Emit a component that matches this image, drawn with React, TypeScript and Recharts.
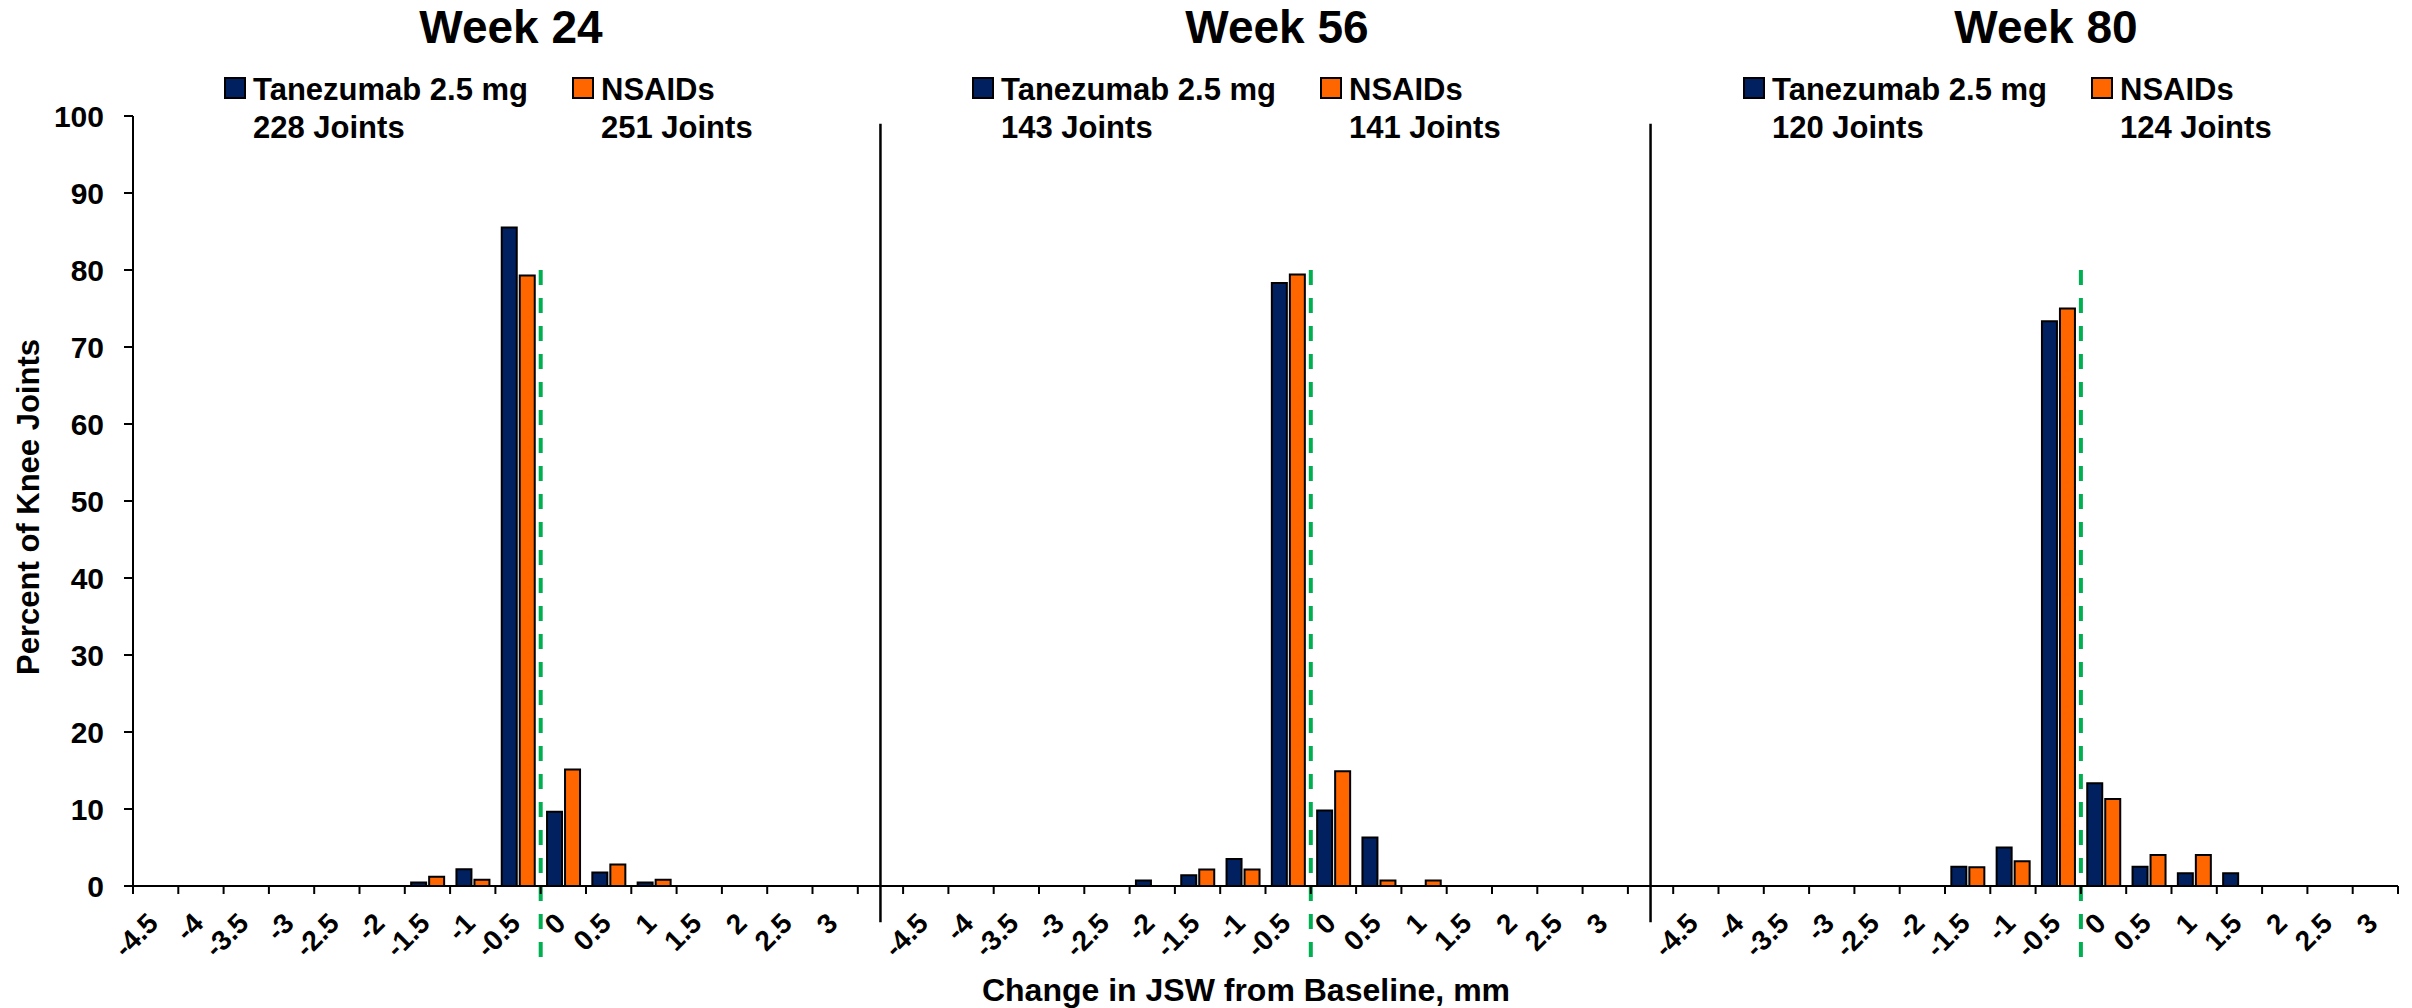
import React from "react";
import { BarChart, Bar, XAxis, YAxis, ReferenceLine } from "recharts";

const FONT = "'Liberation Sans', Arial, Helvetica, sans-serif";
const NAVY = "#002060";
const ORANGE = "#FF6600";
const GREEN = "#00B050";

const W = 2404;
const H = 1000;
const MARGIN = { top: 108, right: 14, bottom: 0, left: 0 };
const Y_AXIS_W = 125;
const X_AXIS_H = 122;
const TICK_LEN = 8;

// change in joint space width bins (mm), same for every week
const JSW_BINS = ["-4.5", "-4", "-3.5", "-3", "-2.5", "-2", "-1.5", "-1", "-0.5", "0", "0.5", "1", "1.5", "2", "2.5", "3"];
const WEEKS = ["Week 24", "Week 56", "Week 80"];
const TANEZUMAB_JOINTS = [228, 143, 120];
const NSAID_JOINTS = [251, 141, 124];

// percent of knee joints per bin
const TANEZUMAB_W24 = [0, 0, 0, 0, 0, 0, 0.44, 2.19, 85.53, 9.65, 1.75, 0.44, 0, 0, 0, 0];
const NSAIDS_W24 = [0, 0, 0, 0, 0, 0, 1.2, 0.8, 79.28, 15.14, 2.79, 0.8, 0, 0, 0, 0];
const TANEZUMAB_W56 = [0, 0, 0, 0, 0, 0.7, 1.4, 3.5, 78.32, 9.79, 6.29, 0, 0, 0, 0, 0];
const NSAIDS_W56 = [0, 0, 0, 0, 0, 0, 2.13, 2.13, 79.43, 14.89, 0.71, 0.71, 0, 0, 0, 0];
const TANEZUMAB_W80 = [0, 0, 0, 0, 0, 0, 2.5, 5.0, 73.33, 13.33, 2.5, 1.67, 1.67, 0, 0, 0];
const NSAIDS_W80 = [0, 0, 0, 0, 0, 0, 2.42, 3.23, 75.0, 11.29, 4.03, 4.03, 0, 0, 0, 0];

const Y_TICKS = [0, 10, 20, 30, 40, 50, 60, 70, 80, 90, 100];

const TANEZUMAB = [TANEZUMAB_W24, TANEZUMAB_W56, TANEZUMAB_W80];
const NSAIDS = [NSAIDS_W24, NSAIDS_W56, NSAIDS_W80];

type Row = { key: string; bin: string; tanezumab: number | null; nsaids: number | null };

// one long category axis: 16 bins per week with an empty slot between weeks
const rows: Row[] = [];
WEEKS.forEach((_, w) => {
  JSW_BINS.forEach((bin, i) => {
    rows.push({ key: `w${w}_${i}`, bin, tanezumab: TANEZUMAB[w][i], nsaids: NSAIDS[w][i] });
  });
  if (w < WEEKS.length - 1) rows.push({ key: `gap${w}`, bin: "", tanezumab: null, nsaids: null });
});

const ZERO_BIN = JSW_BINS.indexOf("0");
const BAND_HALF = (W - MARGIN.left - MARGIN.right - Y_AXIS_W) / rows.length / 2;

function JswTick(props: any) {
  const { x, y, payload, index } = props;
  const half = typeof payload?.offset === "number" && payload.offset > 0 ? payload.offset : BAND_HALF;
  const axisY = y - TICK_LEN;
  const row = rows[index];
  return (
    <g>
      <line x1={x - half} x2={x - half} y1={axisY} y2={axisY + TICK_LEN} stroke="#000" strokeWidth={2} />
      {index === rows.length - 1 && (
        <line x1={x + half} x2={x + half} y1={axisY} y2={axisY + TICK_LEN} stroke="#000" strokeWidth={2} />
      )}
      {row && row.bin && (
        <text
          transform={`translate(${x + 4},${axisY + 39}) rotate(-45)`}
          textAnchor="end"
          fontFamily={FONT}
          fontWeight={700}
          fontSize={28}
          fill="#000"
        >
          {row.bin}
        </text>
      )}
    </g>
  );
}

// week titles and per-week legends, placed over the plot
const TOP_PAD = 8;
const TITLE_X = [503, 1269, 2038];
const LEGEND_X = [217, 965, 1736];
const NSAID_SHIFT = 348;

function Overlay() {
  const txt = { fontFamily: FONT, fontWeight: 700, fill: "#000" } as const;
  return (
    <svg
      width={W}
      height={H + TOP_PAD}
      style={{ position: "absolute", left: 0, top: -TOP_PAD, pointerEvents: "none", overflow: "visible" }}
    >
      <g transform={`translate(0,${TOP_PAD})`}>
        {WEEKS.map((week, w) => {
          const lx = LEGEND_X[w];
          const nx = lx + NSAID_SHIFT;
          return (
            <g key={week}>
              <text x={TITLE_X[w]} y={35} textAnchor="middle" fontSize={46} {...txt}>
                {week}
              </text>
              <rect x={lx} y={70} width={20} height={20} fill={NAVY} stroke="#000" strokeWidth={2} />
              <text x={lx + 28} y={92} fontSize={31} {...txt}>
                Tanezumab 2.5 mg
              </text>
              <text x={lx + 28} y={130} fontSize={31} {...txt}>
                {`${TANEZUMAB_JOINTS[w]} Joints`}
              </text>
              <rect x={nx} y={70} width={20} height={20} fill={ORANGE} stroke="#000" strokeWidth={2} />
              <text x={nx + 28} y={92} fontSize={31} {...txt}>
                NSAIDs
              </text>
              <text x={nx + 28} y={130} fontSize={31} {...txt}>
                {`${NSAID_JOINTS[w]} Joints`}
              </text>
            </g>
          );
        })}
        <text x={31} y={499} transform="rotate(-90 31 499)" textAnchor="middle" fontSize={31} {...txt}>
          Percent of Knee Joints
        </text>
        <text x={1238} y={993} textAnchor="middle" fontSize={32} {...txt}>
          Change in JSW from Baseline, mm
        </text>
      </g>
    </svg>
  );
}

export default function App() {
  return (
    <div style={{ position: "relative", width: W, height: H, background: "#fff" }}>
      <BarChart width={W} height={H} data={rows} margin={MARGIN} barCategoryGap="14%" barGap={3}>
        <XAxis
          dataKey="key"
          type="category"
          interval={0}
          height={X_AXIS_H}
          tickLine={false}
          tickSize={TICK_LEN}
          tickMargin={0}
          axisLine={{ stroke: "#000", strokeWidth: 2 }}
          tick={(p: any) => <JswTick {...p} />}
        />
        <YAxis
          width={Y_AXIS_W}
          domain={[0, 100]}
          ticks={Y_TICKS}
          interval={0}
          tickSize={9}
          tickMargin={20}
          tickLine={{ stroke: "#000", strokeWidth: 2 }}
          axisLine={{ stroke: "#000", strokeWidth: 2 }}
          tick={{ fontSize: 30, fontWeight: 700, fill: "#000", fontFamily: FONT }}
        />
        <Bar dataKey="tanezumab" fill={NAVY} stroke="#000" strokeWidth={2} isAnimationActive={false} />
        <Bar dataKey="nsaids" fill={ORANGE} stroke="#000" strokeWidth={2} isAnimationActive={false} />
        {WEEKS.map((week, w) => (
          <ReferenceLine
            key={`zero-${week}`}
            segment={[
              { x: `w${w}_${ZERO_BIN}`, y: 80 },
              { x: `w${w}_${ZERO_BIN}`, y: -10 },
            ]}
            position="start"
            ifOverflow="visible"
            stroke={GREEN}
            strokeWidth={4}
            strokeDasharray="15 13"
          />
        ))}
        {[0, 1].map((g) => (
          <ReferenceLine
            key={`gap-${g}`}
            segment={[
              { x: `gap${g}`, y: 99 },
              { x: `gap${g}`, y: -4.7 },
            ]}
            ifOverflow="visible"
            stroke="#000"
            strokeWidth={2.5}
          />
        ))}
      </BarChart>
      <Overlay />
    </div>
  );
}
